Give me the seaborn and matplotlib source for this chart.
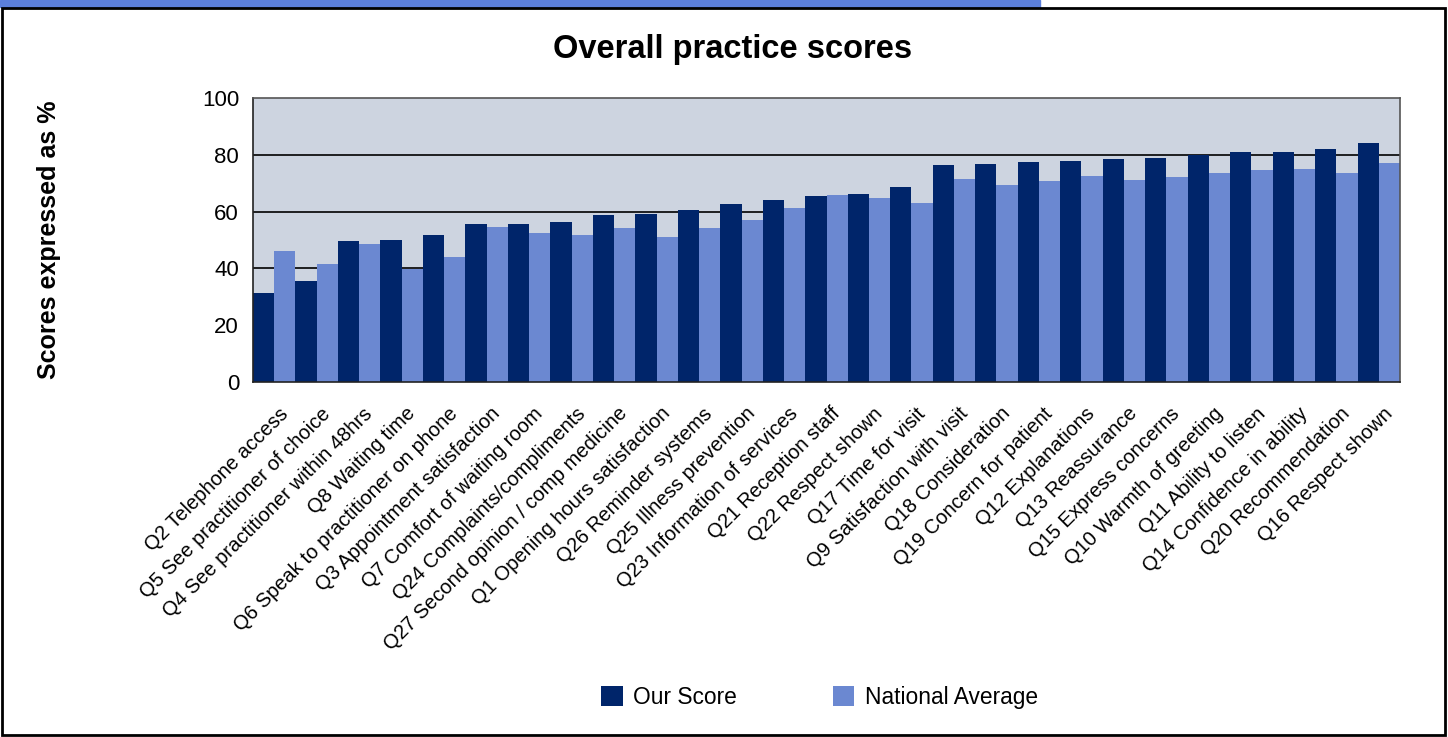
import matplotlib
matplotlib.use("Agg")
import matplotlib.pyplot as plt
import matplotlib.transforms as mtransforms
import pandas as pd
import seaborn as sns
from matplotlib.patches import Rectangle

# Data
QUESTIONS = [
    "Q2 Telephone access", "Q5 See practitioner of choice",
    "Q4 See practitioner within 48hrs", "Q8 Waiting time",
    "Q6 Speak to practitioner on phone", "Q3 Appointment satisfaction",
    "Q7 Comfort of waiting room", "Q24 Complaints/compliments",
    "Q27 Second opinion / comp medicine", "Q1 Opening hours satisfaction",
    "Q26 Reminder systems", "Q25 Illness prevention",
    "Q23 Information of services", "Q21 Reception staff",
    "Q22 Respect shown", "Q17 Time for visit",
    "Q9 Satisfaction with visit", "Q18 Consideration",
    "Q19 Concern for patient", "Q12 Explanations", "Q13 Reassurance",
    "Q15 Express concerns", "Q10 Warmth of greeting",
    "Q11 Ability to listen", "Q14 Confidence in ability",
    "Q20 Recommendation", "Q16 Respect shown",
]
OUR_SCORE = [31.3, 35.6, 49.6, 50.0, 51.8, 55.6, 55.6, 56.3, 58.8, 59.2,
             60.6, 62.7, 64.1, 65.5, 66.2, 68.7, 76.4, 76.8, 77.5, 77.8,
             78.5, 78.9, 80.0, 81.0, 81.0, 82.0, 84.2]
NATIONAL_AVG = [46.1, 41.5, 48.6, 39.8, 44.0, 54.6, 52.5, 51.8, 54.2, 51.0,
                54.3, 57.0, 61.3, 65.8, 64.8, 63.0, 71.5, 69.4, 70.8, 72.5,
                71.1, 72.2, 73.6, 74.6, 75.0, 73.6, 77.1]
SERIES = ["Our Score", "National Average"]

DARK = "#00256A"
LIGHT = "#6B88D1"

df = pd.DataFrame({
    "question": QUESTIONS * 2,
    "score": OUR_SCORE + NATIONAL_AVG,
    "series": [SERIES[0]] * len(QUESTIONS) + [SERIES[1]] * len(QUESTIONS),
})

sns.set_style("white")
plt.rcParams["font.family"] = ["Liberation Sans", "DejaVu Sans"]
plt.rcParams["text.color"] = "black"
plt.rcParams["xtick.color"] = "black"
plt.rcParams["ytick.color"] = "black"

fig = plt.figure(figsize=(14.48, 7.37), dpi=100)
ax = fig.add_axes([0.1747, 0.4817, 0.9669 - 0.1747, 0.867 - 0.4817])

# outer frame and blue strip on top
fig.patches.append(Rectangle((0, 1 - 7 / 737), 1040 / 1448, 7 / 737,
                             transform=fig.transFigure, color="#5B7FDB", zorder=0))
fig.patches.append(Rectangle((2 / 1448, 2 / 737), 1 - 5 / 1448, 1 - 10 / 737,
                             transform=fig.transFigure, fill=False,
                             edgecolor="black", linewidth=2, zorder=1))

sns.barplot(data=df, x="question", y="score", hue="series",
            palette=[DARK, LIGHT], width=1.0, saturation=1,
            linewidth=0, ax=ax, legend=True)

ax.set_facecolor("#CDD4E0")
ax.set_ylim(0, 100)
ax.set_xlim(-0.5, len(QUESTIONS) - 0.5)
ax.set_yticks([0, 20, 40, 60, 80, 100])
for y in [20, 40, 60, 80]:
    ax.axhline(y, color="black", linewidth=1.2, zorder=0.5)
ax.set_axisbelow(True)
for s in ax.spines.values():
    s.set_color("#555555")
    s.set_linewidth(1.2)
ax.spines["left"].set_color("#222222")
ax.spines["bottom"].set_color("#222222")

ax.tick_params(axis="y", labelsize=16, length=0, pad=10)
ax.tick_params(axis="x", labelsize=14.5, length=0, pad=0)
ax.set_xticks(range(len(QUESTIONS)))
ax.set_xticklabels(QUESTIONS, rotation=45, ha="right", va="top",
                   rotation_mode="anchor")
shift = mtransforms.ScaledTranslation(4 / 100, -22 / 100, fig.dpi_scale_trans)
for lbl in ax.get_xticklabels():
    lbl.set_transform(lbl.get_transform() + shift)
ax.set_xlabel("")
ax.set_ylabel("")

fig.text(0.034, 0.675, "Scores expressed as %", rotation=90, fontsize=18,
         fontweight="bold", ha="center", va="center")
fig.text(0.506, 0.933, "Overall practice scores", fontsize=23.5,
         fontweight="bold", ha="center", va="center")

handles, labels = ax.get_legend_handles_labels()
ax.get_legend().remove()
fig.legend(handles, labels, loc="center", bbox_to_anchor=(0.566, 0.054),
           ncol=2, frameon=False, fontsize=16.4, handlelength=0.95,
           handleheight=0.95, columnspacing=4.2, handletextpad=0.45)

fig.savefig("out.png", dpi=100)
